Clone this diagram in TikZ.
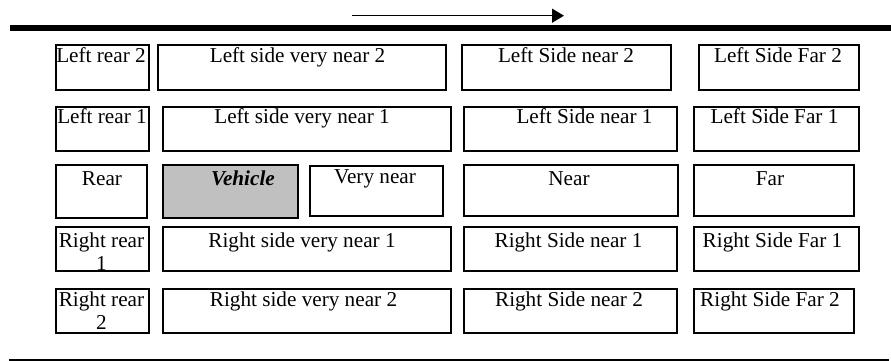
\documentclass[tikz,border=0pt]{standalone}
\usepackage{fontspec}
\setmainfont{Liberation Serif}
\usetikzlibrary{arrows.meta}
\definecolor{vehgray}{RGB}{192,192,192}

\begin{document}
\begin{tikzpicture}[x=1pt,y=-1pt,
  cell/.style={draw=black, line width=2.2pt, fill=white, inner sep=0pt, outer sep=0pt},
  vehcell/.style={cell, fill=vehgray},
  lbl/.style={anchor=base, inner sep=0pt, font=\fontsize{21.2}{22.7}\selectfont},
  road/.style={line width=5.7pt},
  edgeline/.style={line width=2pt},
  dirarrow/.style={line width=1.5pt, -{Triangle[length=12pt,width=14pt]}}]

\useasboundingbox (0,0) rectangle (891,361);

% road edges and driving direction
\coordinate (topL) at (10,27.9);
\coordinate (topR) at (891,27.9);
\coordinate (botL) at (9,359.5);
\coordinate (botR) at (889,359.5);
\coordinate (dirS) at (352,15.7);
\coordinate (dirE) at (564,15.7);
\draw[road] (topL) -- (topR);
\draw[edgeline] (botL) -- (botR);
\draw[dirarrow] (dirS) -- (dirE);

% row 1: left side, lane 2
\node[cell, minimum width=93pt,  minimum height=44.7pt] (lr2)   at (102.5,67.35) {};
\node[cell, minimum width=288pt, minimum height=44.7pt] (lsvn2) at (302,67.35) {};
\node[cell, minimum width=209pt, minimum height=44.7pt] (lsn2)  at (566.5,67.35) {};
\node[cell, minimum width=160pt, minimum height=44.7pt] (lsf2)  at (779,67.35) {};

% row 2: left side, lane 1
\node[cell, minimum width=93pt,  minimum height=44pt] (lr1)   at (102.5,129) {};
\node[cell, minimum width=288pt, minimum height=44pt] (lsvn1) at (307,129) {};
\node[cell, minimum width=213pt, minimum height=44pt] (lsn1)  at (570.5,129) {};
\node[cell, minimum width=165pt, minimum height=44pt] (lsf1)  at (776.5,129) {};

% row 3: own lane
\node[cell,    minimum width=91pt,  minimum height=53pt] (rear) at (101.5,191.5) {};
\node[vehcell, minimum width=135pt, minimum height=53pt] (veh)  at (230.5,191.5) {};
\node[cell,    minimum width=133pt, minimum height=50pt] (vn)   at (376.5,191) {};
\node[cell,    minimum width=214pt, minimum height=51pt] (near) at (571,190.5) {};
\node[cell,    minimum width=160pt, minimum height=51pt] (far)  at (774,190.5) {};

% row 4: right side, lane 1
\node[cell, minimum width=93pt,  minimum height=44pt] (rr1)   at (102.5,249) {};
\node[cell, minimum width=288pt, minimum height=44pt] (rsvn1) at (307,249) {};
\node[cell, minimum width=213pt, minimum height=44pt] (rsn1)  at (570.5,249) {};
\node[cell, minimum width=165pt, minimum height=44pt] (rsf1)  at (776.5,249) {};

% row 5: right side, lane 2
\node[cell, minimum width=93pt,  minimum height=44pt] (rr2)   at (102.5,311) {};
\node[cell, minimum width=288pt, minimum height=44pt] (rsvn2) at (307,311) {};
\node[cell, minimum width=213pt, minimum height=44pt] (rsn2)  at (570.5,311) {};
\node[cell, minimum width=160pt, minimum height=44pt] (rsf2)  at (774,311) {};

% labels
\node[lbl] (tlr2)   at (101,63)    {Left rear 2};
\node[lbl] (tlsvn2) at (297.5,63)  {Left side very near 2};
\node[lbl] (tlsn2)  at (566,63)    {Left Side near 2};
\node[lbl] (tlsf2)  at (778,63)    {Left Side Far 2};

\node[lbl] (tlr1)   at (102,123)   {Left rear 1};
\node[lbl] (tlsvn1) at (302,123)   {Left side very near 1};
\node[lbl] (tlsn1)  at (584.5,123) {Left Side near 1};
\node[lbl] (tlsf1)  at (774.5,123) {Left Side Far 1};

\node[lbl] (trear)  at (102,185.5) {Rear};
\node[lbl] (tveh)   at (243,185.5) {\bfseries\itshape Vehicle};
\node[lbl] (tvn)    at (375,183)   {Very near};
\node[lbl] (tnear)  at (569,185.5) {Near};
\node[lbl] (tfar)   at (770,185.5) {Far};

\node[lbl] (trr1a)  at (101.5,247.5) {Right rear};
\node[lbl] (trr1b)  at (101.5,270.2) {1};
\node[lbl] (trsvn1) at (302,247.5)   {Right side very near 1};
\node[lbl] (trsn1)  at (568.5,247.5) {Right Side near 1};
\node[lbl] (trsf1)  at (772.5,247.5) {Right Side Far 1};

\node[lbl] (trr2a)  at (101.5,306.7) {Right rear};
\node[lbl] (trr2b)  at (101.5,329.4) {2};
\node[lbl] (trsvn2) at (303.5,306.7) {Right side very near 2};
\node[lbl] (trsn2)  at (569,306.7)   {Right Side near 2};
\node[lbl] (trsf2)  at (770,306.7)   {Right Side Far 2};
\end{tikzpicture}
\end{document}
